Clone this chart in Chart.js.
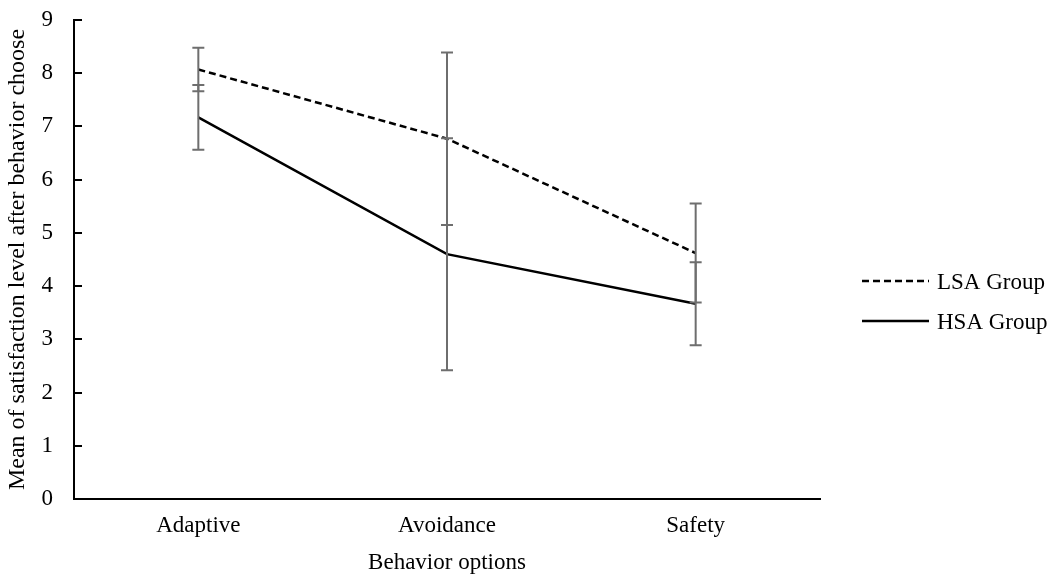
<!DOCTYPE html>
<html>
<head>
<meta charset="utf-8">
<script src="https://cdn.jsdelivr.net/npm/chart.js@4.4.0/dist/chart.umd.min.js"></script>
<style>
  html, body { margin: 0; padding: 0; background: #ffffff; }
  canvas { display: block; }
</style>
</head>
<body>
<canvas id="c" width="1057" height="574"></canvas>
<script>
// ---- data ----
const categories = ['Adaptive', 'Avoidance', 'Safety'];
const lsaMeans  = [8.07, 6.77, 4.62];
const lsaErrors = [0.41, 1.62, 0.93];
const hsaMeans  = [7.17, 4.60, 3.67];
const hsaErrors = [0.61, 2.18, 0.78];
const seriesNames = ['LSA Group', 'HSA Group'];
const yTicks = [0, 1, 2, 3, 4, 5, 6, 7, 8, 9];
const xTitle = 'Behavior options';
const yTitle = 'Mean of satisfaction level after behavior choose';

const FONT = "'Liberation Serif', 'Times New Roman', serif";

const errorBarPlugin = {
  id: 'errorBars',
  afterDatasetsDraw(chart) {
    const { ctx, scales: { x, y } } = chart;
    ctx.save();
    ctx.strokeStyle = '#6e6e6e';
    ctx.lineWidth = 2;
    ctx.setLineDash([]);
    const cap = 6;
    chart.data.datasets.forEach((ds) => {
      ds.errors.forEach((e, i) => {
        const px = x.getPixelForValue(i);
        const top = y.getPixelForValue(ds.data[i] + e);
        const bot = y.getPixelForValue(ds.data[i] - e);
        ctx.beginPath();
        ctx.moveTo(px, top); ctx.lineTo(px, bot);
        ctx.moveTo(px - cap, top); ctx.lineTo(px + cap, top);
        ctx.moveTo(px - cap, bot); ctx.lineTo(px + cap, bot);
        ctx.stroke();
      });
    });
    ctx.restore();
  }
};

const legendPlugin = {
  id: 'customLegend',
  afterDraw(chart) {
    const { ctx, chartArea } = chart;
    ctx.save();
    const x0 = chartArea.right + 42;
    const lineLen = 67;
    const yStart = 283;
    const gap = 40;
    ctx.font = '23px ' + FONT;
    ctx.textBaseline = 'middle';
    ctx.textAlign = 'left';
    ctx.fillStyle = '#000';
    chart.data.datasets.forEach((ds, i) => {
      const yy = yStart + i * gap;
      ctx.strokeStyle = ds.borderColor;
      ctx.lineWidth = ds.borderWidth;
      ctx.setLineDash(ds.borderDash || []);
      ctx.beginPath();
      ctx.moveTo(x0, yy - 2);
      ctx.lineTo(x0 + lineLen, yy - 2);
      ctx.stroke();
      ctx.setLineDash([]);
      ctx.fillText(ds.label, x0 + lineLen + 8, yy);
    });
    ctx.restore();
  }
};

function zeroPad(scale) {
  scale.paddingTop = 0; scale.paddingBottom = 0;
  scale.paddingLeft = 0; scale.paddingRight = 0;
}

new Chart(document.getElementById('c'), {
  type: 'line',
  data: {
    labels: categories,
    datasets: [
      {
        label: seriesNames[0],
        data: lsaMeans,
        errors: lsaErrors,
        borderColor: '#000000',
        borderWidth: 2.5,
        borderDash: [7, 4],
        pointRadius: 0,
        tension: 0,
        fill: false
      },
      {
        label: seriesNames[1],
        data: hsaMeans,
        errors: hsaErrors,
        borderColor: '#000000',
        borderWidth: 2.5,
        pointRadius: 0,
        tension: 0,
        fill: false
      }
    ]
  },
  options: {
    responsive: false,
    animation: false,
    layout: { padding: { top: 20, right: 237, left: 0, bottom: 0 } },
    plugins: {
      legend: { display: false },
      tooltip: { enabled: false }
    },
    scales: {
      x: {
        type: 'category',
        offset: true,
        afterFit(scale) { scale.height = 75; zeroPad(scale); },
        grid: { display: true, drawOnChartArea: false, drawTicks: false, color: 'rgba(0,0,0,0)' },
        border: { display: true, color: '#000', width: 2 },
        ticks: { color: '#000', padding: 13, font: { family: FONT, size: 23, lineHeight: 1.2 } },
        title: {
          display: true, text: xTitle, color: '#000',
          font: { family: FONT, size: 23, lineHeight: 1 },
          padding: { top: 0, bottom: 0 }
        }
      },
      y: {
        min: 0, max: 9,
        afterFit(scale) { scale.width = 74; zeroPad(scale); },
        afterBuildTicks(scale) { scale.ticks = yTicks.map(v => ({ value: v })); },
        grid: { display: true, drawOnChartArea: false, drawTicks: true, tickLength: -8, color: '#000', lineWidth: 2 },
        border: { display: true, color: '#000', width: 2 },
        ticks: { color: '#000', padding: 29, font: { family: FONT, size: 23 } },
        title: {
          display: true, text: yTitle, color: '#000',
          font: { family: FONT, size: 24, lineHeight: 1 },
          padding: { top: 6, bottom: 0 }
        }
      }
    }
  },
  plugins: [errorBarPlugin, legendPlugin]
});
</script>
</body>
</html>
